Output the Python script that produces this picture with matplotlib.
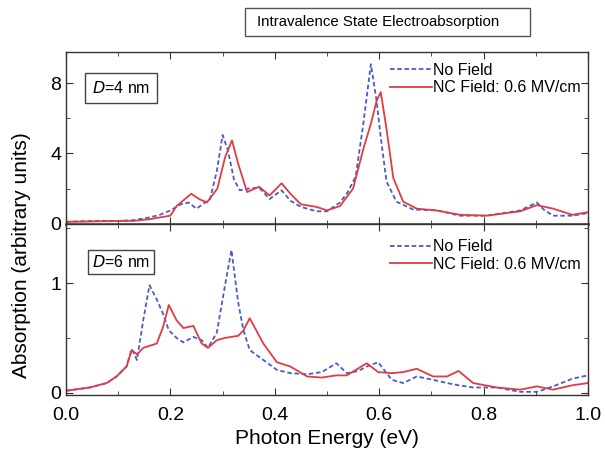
import numpy as np
import matplotlib
matplotlib.use("Agg")
import matplotlib.pyplot as plt
from matplotlib.patches import Rectangle
from matplotlib.ticker import MultipleLocator, FormatStrFormatter

plt.rcParams['font.family'] = ['Liberation Sans', 'DejaVu Sans']

# top panel, D = 4 nm
top_x_nf = [0.0, 0.05, 0.10, 0.13, 0.16, 0.18, 0.20, 0.22, 0.235, 0.25, 0.276, 0.289, 0.30, 0.31,
            0.322, 0.333, 0.35, 0.37, 0.39, 0.413, 0.43, 0.45, 0.48, 0.50, 0.525, 0.54, 0.555,
            0.57, 0.584, 0.595, 0.603, 0.614, 0.633, 0.665, 0.71, 0.755, 0.806, 0.87, 0.902,
            0.915, 0.933, 0.97, 1.0]
top_y_nf = [0.1, 0.15, 0.15, 0.2, 0.35, 0.5, 0.75, 1.1, 1.2, 0.85, 1.4, 3.0, 5.05, 4.2,
            2.5, 1.9, 2.0, 2.05, 1.4, 1.9, 1.3, 0.95, 0.7, 0.7, 1.2, 1.8, 2.7,
            5.8, 9.1, 7.0, 4.9, 2.4, 1.25, 0.8, 0.75, 0.45, 0.45, 0.75, 1.2,
            0.8, 0.45, 0.45, 0.6]
top_x_nc = [0.0, 0.05, 0.10, 0.13, 0.16, 0.18, 0.20, 0.212, 0.24, 0.255, 0.27, 0.29, 0.305,
            0.318, 0.33, 0.347, 0.37, 0.39, 0.413, 0.43, 0.45, 0.48, 0.50, 0.525, 0.55, 0.57,
            0.585, 0.595, 0.603, 0.614, 0.627, 0.646, 0.672, 0.71, 0.755, 0.806, 0.87, 0.902,
            0.933, 0.97, 1.0]
top_y_nc = [0.1, 0.12, 0.15, 0.15, 0.25, 0.35, 0.45, 1.0, 1.7, 1.4, 1.2, 2.0, 3.8,
            4.75, 3.4, 1.8, 2.1, 1.6, 2.3, 1.7, 1.1, 0.95, 0.75, 1.0, 2.0, 4.3,
            5.8, 7.0, 7.5, 5.4, 2.6, 1.25, 0.85, 0.75, 0.5, 0.45, 0.7, 1.05,
            0.85, 0.5, 0.65]

# bottom panel, D = 6 nm
bot_x_nf = [0.0, 0.046, 0.078, 0.097, 0.116, 0.126, 0.136, 0.148, 0.16, 0.174, 0.186, 0.197,
            0.212, 0.225, 0.244, 0.26, 0.272, 0.289, 0.304, 0.317, 0.33, 0.34, 0.352, 0.378,
            0.404, 0.43, 0.462, 0.49, 0.518, 0.538, 0.56, 0.576, 0.598, 0.624, 0.646, 0.672,
            0.703, 0.73, 0.752, 0.78, 0.825, 0.87, 0.902, 0.933, 0.97, 1.0]
bot_y_nf = [0.02, 0.05, 0.09, 0.15, 0.24, 0.40, 0.30, 0.66, 0.98, 0.85, 0.72, 0.57,
            0.5, 0.46, 0.51, 0.48, 0.41, 0.55, 0.96, 1.3, 0.82, 0.57, 0.39, 0.3,
            0.21, 0.18, 0.17, 0.19, 0.27, 0.18, 0.2, 0.24, 0.28, 0.12, 0.09, 0.15,
            0.12, 0.09, 0.07, 0.05, 0.05, 0.01, 0.01, 0.06, 0.13, 0.16]
bot_x_nc = [0.0, 0.046, 0.078, 0.097, 0.116, 0.126, 0.136, 0.148, 0.174, 0.186, 0.197, 0.212,
            0.225, 0.244, 0.26, 0.272, 0.289, 0.304, 0.33, 0.34, 0.352, 0.378, 0.404, 0.43,
            0.462, 0.49, 0.518, 0.538, 0.576, 0.598, 0.624, 0.646, 0.672, 0.703, 0.73, 0.752,
            0.78, 0.825, 0.87, 0.902, 0.933, 0.97, 1.0]
bot_y_nc = [0.02, 0.05, 0.09, 0.15, 0.24, 0.39, 0.35, 0.41, 0.45, 0.6, 0.80, 0.66,
            0.59, 0.61, 0.45, 0.41, 0.48, 0.5, 0.52, 0.57, 0.68, 0.45, 0.28, 0.24,
            0.15, 0.14, 0.16, 0.16, 0.27, 0.19, 0.18, 0.19, 0.22, 0.15, 0.15, 0.2,
            0.09, 0.05, 0.03, 0.06, 0.03, 0.07, 0.09]

labels = ["No Field", "NC Field: 0.6 MV/cm"]
blue = "#4a5cc8"
red = "#e03c44"

fig = plt.figure(figsize=(6.05, 4.63), dpi=100)
ax1 = fig.add_axes([0.109, 0.516, 0.863, 0.372])
ax2 = fig.add_axes([0.109, 0.147, 0.863, 0.369])

panels = [
    (ax1, top_x_nf, top_y_nf, top_x_nc, top_y_nc, "4", 0.79, 0.936, 0.45),
    (ax2, bot_x_nf, bot_y_nf, bot_x_nc, bot_y_nc, "6", 0.78, 0.912, 0.25),
]
for ax, xn, yn, xc, yc, d, ybox, yleg, bpad in panels:
    ax.plot(xn, yn, color=blue, ls=(0, (2.5, 1.5)), lw=1.3, label=labels[0])
    ax.plot(xc, yc, color=red, lw=1.3, label=labels[1])
    ax.set_xlim(0, 1)
    ax.xaxis.set_major_locator(MultipleLocator(0.2))
    ax.xaxis.set_minor_locator(MultipleLocator(0.1))
    ax.tick_params(which="both", direction="in", top=True, right=True, labelsize=14,
                   color="#333333")
    ax.tick_params(axis="x", pad=9)
    ax.tick_params(which="major", length=5)
    ax.tick_params(which="minor", length=3)
    for s in ax.spines.values():
        s.set_color("#333333")
        s.set_linewidth(1.0)
    ax.legend(loc="upper left", frameon=False, fontsize=11.5, handlelength=2.6,
              handletextpad=0.05, borderaxespad=0, borderpad=0, labelspacing=0.15,
              bbox_to_anchor=(0.621, yleg))
    ax.text(0.05, ybox, "$D$=" + d + " nm", transform=ax.transAxes,
            fontsize=11.5, va="center", ha="left",
            bbox=dict(boxstyle="square,pad=" + str(bpad), fc="white", ec="#444444", lw=1.0))

ax1.set_ylim(-0.03, 9.8)
ax1.yaxis.set_major_locator(MultipleLocator(4))
ax1.yaxis.set_minor_locator(MultipleLocator(2))
ax1.tick_params(labelbottom=False)
ax1.spines["bottom"].set_linewidth(1.8)

ax2.set_ylim(-0.018, 1.536)
ax2.yaxis.set_major_locator(MultipleLocator(1))
ax2.yaxis.set_minor_locator(MultipleLocator(0.5))
ax2.xaxis.set_major_formatter(FormatStrFormatter("%.1f"))
ax2.set_xlabel("Photon Energy (eV)", fontsize=15, labelpad=3)

fig.text(0.036, 0.449, "Absorption (arbitrary units)", rotation=90, fontsize=15,
         ha="center", va="center")

# title box
fig.patches.append(Rectangle((245 / 605, 1 - 36 / 463), 285 / 605, 28 / 463,
                             transform=fig.transFigure, fill=False, ec="#555555", lw=1.0))
fig.text(257 / 605, 1 - 22 / 463, "Intravalence State Electroabsorption", fontsize=10.8,
         ha="left", va="center")

fig.savefig("out.png", dpi=100)
